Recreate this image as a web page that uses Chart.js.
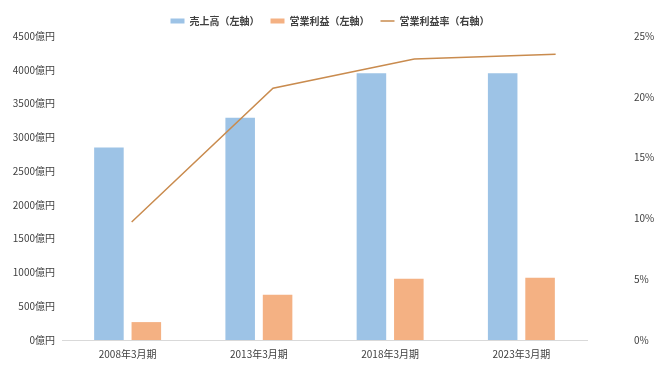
<!DOCTYPE html>
<html><head><meta charset="utf-8">
<script src="https://cdn.jsdelivr.net/npm/chart.js@4"></script>
<style>html,body{margin:0;padding:0;background:#fff}#wrap{position:relative;width:660px;height:370px}
canvas{position:absolute;left:0;top:0}</style>
</head><body><div id="wrap"><canvas id="c" width="660" height="370"></canvas><canvas id="c2" width="660" height="370"></canvas></div>
<script>
const categories = ['2008年3月期','2013年3月期','2018年3月期','2023年3月期'];
const sales = [2850, 3290, 3950, 3950];
const opProfit = [265, 670, 905, 922];
const opMargin = [9.7, 20.7, 23.1, 23.5];
const leftTicks = [0,500,1000,1500,2000,2500,3000,3500,4000,4500];
const rightTicks = [0,5,10,15,20,25];
const seriesNames = ['売上高（左軸）','営業利益（左軸）','営業利益率（右軸）'];

const FONT = '"Noto Sans CJK JP", "Noto Sans", sans-serif';
Chart.defaults.font.family = FONT;
Chart.defaults.color = '#404040';
const LINE_COLOR = '#C98B4E';

// Main chart: bars, axes, legend
new Chart(document.getElementById('c'), {
  type: 'bar',
  data: {
    labels: categories,
    datasets: [
      {type:'bar', label:seriesNames[0], data: sales, backgroundColor:'#9DC3E6', yAxisID:'y', categoryPercentage:0.57, barPercentage:0.79},
      {type:'bar', label:seriesNames[1], data: opProfit, backgroundColor:'#F4B183', yAxisID:'y', categoryPercentage:0.57, barPercentage:0.79},
      // legend entry only; the line itself is drawn by the overlay chart below
      {type:'line', label:seriesNames[2], data: [], borderColor:LINE_COLOR, backgroundColor:LINE_COLOR, borderWidth:1.5, pointRadius:0, yAxisID:'y1'}
    ]
  },
  options: {
    responsive:false, animation:false,
    layout:{padding:{top:-7,bottom:0,left:0,right:0}},
    plugins:{
      legend:{position:'top', maxHeight:43, labels:{usePointStyle:true, pointStyleWidth:14, boxHeight:5, padding:11, color:'#404040', font:{size:10, weight:'bold', family:FONT},
        generateLabels(chart){
          const items = Chart.defaults.plugins.legend.labels.generateLabels(chart);
          items.forEach(it=>{ it.pointStyle = it.datasetIndex===2 ? 'line' : 'rect'; if(it.datasetIndex===2){ it.lineWidth=1.5; it.strokeStyle=LINE_COLOR; } else { it.lineWidth=0; } });
          return items;
        }}},
      tooltip:{enabled:false}
    },
    scales:{
      x:{type:'category', grid:{display:false, drawTicks:false}, border:{display:true,color:'#D9D9D9'},
         ticks:{font:{size:10}, color:'#404040', padding:8},
         afterFit(s){ s.height = 30; }},
      y:{type:'linear', position:'left', min:0, max:4500, grid:{display:false, drawTicks:false}, border:{display:false},
         afterBuildTicks(s){ s.ticks = leftTicks.map(v=>({value:v})); },
         ticks:{font:{size:10}, color:'#404040', padding:7, callback:v=>v+'億円'},
         afterFit(s){ s.width = 62; s.paddingTop = 36; s.paddingBottom = 6; }},
      y1:{type:'linear', position:'right', min:0, max:25, grid:{display:false, drawTicks:false}, border:{display:false},
         afterBuildTicks(s){ s.ticks = rightTicks.map(v=>({value:v})); },
         ticks:{font:{size:10}, color:'#404040', padding:47, callback:v=>v+'%'},
         afterFit(s){ s.width = 73; s.paddingTop = 36; s.paddingBottom = 6; }}
    }
  }
});

// Overlay chart: the margin line on its own x scale, same plot area
new Chart(document.getElementById('c2'), {
  type: 'line',
  data: {
    datasets: [
      {label:seriesNames[2], data: opMargin.map((v,i)=>({x:i,y:v})), borderColor:LINE_COLOR, borderWidth:1.5, pointRadius:0, fill:false}
    ]
  },
  options: {
    responsive:false, animation:false,
    layout:{padding:{top:36,bottom:30,left:62,right:73}},
    plugins:{legend:{display:false}, tooltip:{enabled:false}},
    scales:{
      x:{type:'linear', display:false, offset:false, min:-0.493, max:3.222},
      y:{type:'linear', display:false, min:0, max:25}
    }
  }
});
</script></body></html>
